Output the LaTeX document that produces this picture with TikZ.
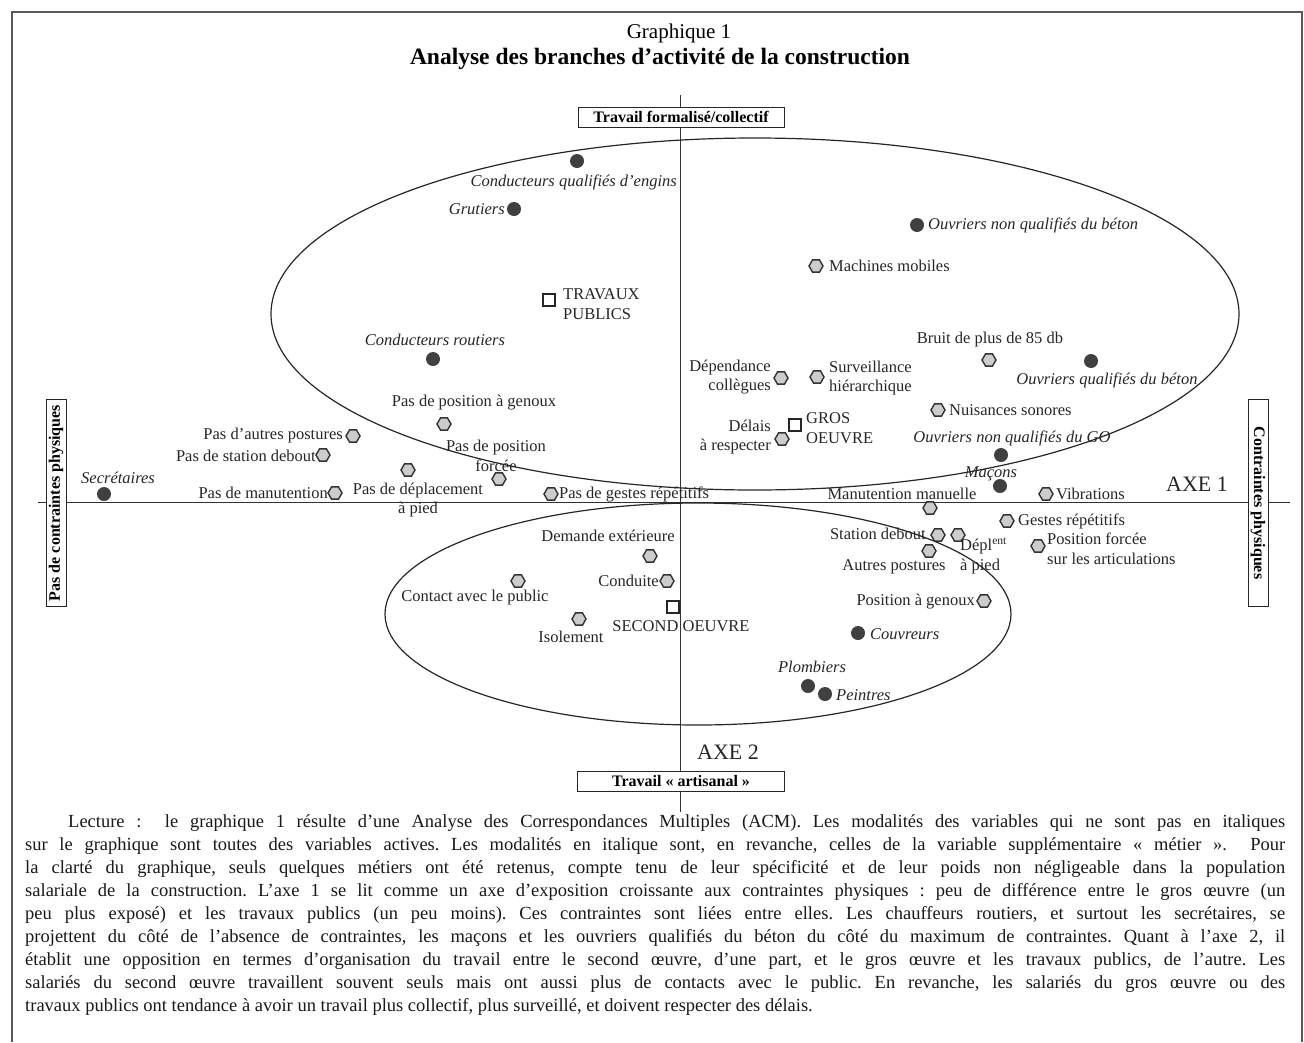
\documentclass[tikz,border=0pt]{standalone}
\usepackage{fontspec}
\setmainfont{Liberation Serif}
\usetikzlibrary{shapes.geometric}
\begin{document}
\begin{tikzpicture}[x=1pt,y=-1pt,
  lab/.style={font=\fontsize{16.5}{19.5}\selectfont, inner sep=0pt, text=black!85},
  ilab/.style={lab, font=\fontsize{16.5}{19.5}\selectfont\itshape},
  hexa/.style={regular polygon, regular polygon sides=6, minimum size=14pt, inner sep=0pt, fill=gray!40, draw=black!80, line width=1.4pt},
  dot/.style={circle, fill=black!75, minimum size=14pt, inner sep=0pt},
  sq/.style={rectangle, draw=black!85, line width=1.6pt, fill=white, minimum size=12pt, inner sep=0pt},
  axbox/.style={draw=black!85, line width=1pt, fill=white, font=\fontsize{16}{18}\selectfont\bfseries, inner sep=0pt, minimum height=20pt},
  axlab/.style={font=\fontsize{22}{24}\selectfont, inner sep=0pt, text=black!85},
  curve/.style={draw=black!85, line width=1.2pt},
  axis/.style={draw=black!80, line width=1pt},
  frame/.style={draw=black!65, line width=1.2pt}
]
\useasboundingbox (0,0) rectangle (1304,1042);
% frame
\coordinate (f1) at (12,1042);
\coordinate (f2) at (12,12);
\coordinate (f3) at (1302,12);
\coordinate (f4) at (1302,1042);
\draw[frame] (f1) -- (f2) -- (f3) -- (f4);

% titles
\node[font=\fontsize{21}{24}\selectfont, inner sep=0pt] (t1) at (679,33) {Graphique 1};
\node[font=\fontsize{23.5}{26}\selectfont\bfseries, inner sep=0pt] (t2) at (660,59) {Analyse des branches d’activité de la construction};

% axes
\coordinate (vt) at (680,95);
\coordinate (vb) at (680,812);
\coordinate (hl) at (38,502);
\coordinate (hr) at (1290,502);
\draw[axis] (vt) -- (vb);
\draw[axis] (hl) -- (hr);

% ellipses
\draw[curve] (755,314) ellipse [x radius=484pt, y radius=176pt];
\draw[curve] (698,614) ellipse [x radius=313pt, y radius=111pt];

% axis boxes
\node[axbox, minimum width=206pt] (btop) at (681,117) {Travail formalisé/collectif};
\node[axbox, minimum width=207pt] (bbot) at (681,781) {Travail « artisanal »};
\node[axbox, minimum width=207pt, rotate=90] (bleft) at (56,503) {Pas de contraintes physiques};
\node[axbox, minimum width=207pt, rotate=-90] (bright) at (1258,503) {Contraintes physiques};
\node[axlab] (axe1) at (1197,484) {AXE 1};
\node[axlab] (axe2) at (728,752) {AXE 2};

% metiers (dots)
\node[dot] (d1) at (577,161) {};
\node[ilab, anchor=east] (ld1) at (677,182) {Conducteurs qualifiés d’engins};
\node[dot] (d2) at (514,209) {};
\node[ilab, anchor=east] (ld2) at (505,209) {Grutiers};
\node[dot] (d3) at (917,225) {};
\node[ilab, anchor=west] (ld3) at (928,225) {Ouvriers non qualifiés du béton};
\node[dot] (d4) at (433,359) {};
\node[ilab] (ld4) at (435,340) {Conducteurs routiers};
\node[dot] (d5) at (1091,361) {};
\node[ilab] (ld5) at (1107,380) {Ouvriers qualifiés du béton};
\node[dot] (d6) at (1001,455) {};
\node[ilab] (ld6) at (1012,438) {Ouvriers non qualifiés du GO};
\node[dot] (d7) at (1000,486) {};
\node[ilab] (ld7) at (991,474) {Maçons};
\node[dot] (d8) at (104,494) {};
\node[ilab] (ld8) at (118,478) {Secrétaires};
\node[dot] (d9) at (858,633) {};
\node[ilab, anchor=west] (ld9) at (870,634) {Couvreurs};
\node[dot] (d10) at (808,686) {};
\node[ilab] (ld10) at (812,667) {Plombiers};
\node[dot] (d11) at (825,694) {};
\node[ilab, anchor=west] (ld11) at (836,695) {Peintres};

% branches (squares)
\node[sq] (s1) at (549,300) {};
\node[lab, anchor=west, align=left] (ls1) at (563,304) {TRAVAUX\\PUBLICS};
\node[sq] (s2) at (795,425) {};
\node[lab, anchor=west, align=left] (ls2) at (806,428) {GROS\\OEUVRE};
\node[sq] (s3) at (673,607) {};
\node[lab] (ls3) at (681,626) {SECOND OEUVRE};

% active modalities (hexagons)
\node[hexa] (h1) at (816,266) {};
\node[lab, anchor=west] (lh1) at (829,266) {Machines mobiles};
\node[hexa] (h2) at (989,360) {};
\node[lab] (lh2) at (990,340) {Bruit de plus de 85 db};
\node[hexa] (h3) at (781,378) {};
\node[lab, anchor=east, align=right] (lh3) at (771,377) {Dépendance\\collègues};
\node[hexa] (h4) at (817,377) {};
\node[lab, anchor=west, align=left] (lh4) at (829,378) {Surveillance\\hiérarchique};
\node[hexa] (h5) at (938,410) {};
\node[lab, anchor=west] (lh5) at (949,410) {Nuisances sonores};
\node[hexa] (h6) at (782,439) {};
\node[lab, anchor=east, align=right] (lh6) at (771,437) {Délais\\à respecter};
\node[hexa] (h7) at (444,424) {};
\node[lab] (lh7) at (474,403) {Pas de position à genoux};
\node[hexa] (h8) at (353,436) {};
\node[lab, anchor=east] (lh8) at (343,436) {Pas d’autres postures};
\node[hexa] (h9) at (323,455) {};
\node[lab, anchor=east] (lh9) at (316,456) {Pas de station debout};
\node[hexa] (h10) at (499,479) {};
\node[lab, align=center] (lh10) at (496,456) {Pas de position\\forcée};
\node[hexa] (h11) at (408,470) {};
\node[lab, align=center] (lh11) at (418,500) {Pas de déplacement\\à pied};
\node[hexa] (h12) at (335,493) {};
\node[lab, anchor=east] (lh12) at (328,493) {Pas de manutention};
\node[hexa] (h13) at (551,494) {};
\node[lab, anchor=west] (lh13) at (559,494) {Pas de gestes répétitifs};
\node[hexa] (h14) at (930,508) {};
\node[lab] (lh14) at (902,494) {Manutention manuelle};
\node[hexa] (h15) at (1046,494) {};
\node[lab, anchor=west] (lh15) at (1056,494) {Vibrations};
\node[hexa] (h16) at (1007,521) {};
\node[lab, anchor=west] (lh16) at (1018,521) {Gestes répétitifs};
\node[hexa] (h17) at (1038,546) {};
\node[lab, anchor=west, align=left] (lh17) at (1047,549) {Position forcée\\sur les articulations};
\node[hexa] (h18) at (938,535) {};
\node[lab, anchor=east] (lh18) at (926,534) {Station debout};
\node[hexa] (h19) at (958,535) {};
\node[lab, anchor=west, align=left] (lh19) at (960,556) {Dépl\textsuperscript{ent}\\à pied};
\node[hexa] (h20) at (929,551) {};
\node[lab] (lh20) at (894,567) {Autres postures};
\node[hexa] (h21) at (650,556) {};
\node[lab] (lh21) at (608,536) {Demande extérieure};
\node[hexa] (h22) at (667,581) {};
\node[lab, anchor=east] (lh22) at (659,581) {Conduite};
\node[hexa] (h23) at (518,581) {};
\node[lab] (lh23) at (475,598) {Contact avec le public};
\node[hexa] (h24) at (579,619) {};
\node[lab] (lh24) at (571,637) {Isolement};
\node[hexa] (h25) at (984,601) {};
\node[lab, anchor=east] (lh25) at (975,602) {Position à genoux};

% reading note
\node[anchor=north west, inner sep=0pt, align=left, text=black!90, font=\fontsize{18.5}{23}\selectfont\frenchspacing] (note) at (25,814) {%
\hspace*{43pt}\makebox[1217pt][s]{Lecture :\ \ le graphique 1 résulte d’une Analyse des Correspondances Multiples (ACM). Les modalités des variables qui ne sont pas en italiques}\\
\makebox[1260pt][s]{sur le graphique sont toutes des variables actives. Les modalités en italique sont, en revanche, celles de la variable supplémentaire « métier ».\ \ Pour}\\
\makebox[1260pt][s]{la clarté du graphique, seuls quelques métiers ont été retenus, compte tenu de leur spécificité et de leur poids non négligeable dans la population}\\
\makebox[1260pt][s]{salariale de la construction. L’axe 1 se lit comme un axe d’exposition croissante aux contraintes physiques : peu de différence entre le gros œuvre (un}\\
\makebox[1260pt][s]{peu plus exposé) et les travaux publics (un peu moins). Ces contraintes sont liées entre elles. Les chauffeurs routiers, et surtout les secrétaires, se}\\
\makebox[1260pt][s]{projettent du côté de l’absence de contraintes, les maçons et les ouvriers qualifiés du béton du côté du maximum de contraintes. Quant à l’axe 2, il}\\
\makebox[1260pt][s]{établit une opposition en termes d’organisation du travail entre le second œuvre, d’une part, et le gros œuvre et les travaux publics, de l’autre. Les}\\
\makebox[1260pt][s]{salariés du second œuvre travaillent souvent seuls mais ont aussi plus de contacts avec le public. En revanche, les salariés du gros œuvre ou des}\\
travaux publics ont tendance à avoir un travail plus collectif, plus surveillé, et doivent respecter des délais.};
\end{tikzpicture}
\end{document}
